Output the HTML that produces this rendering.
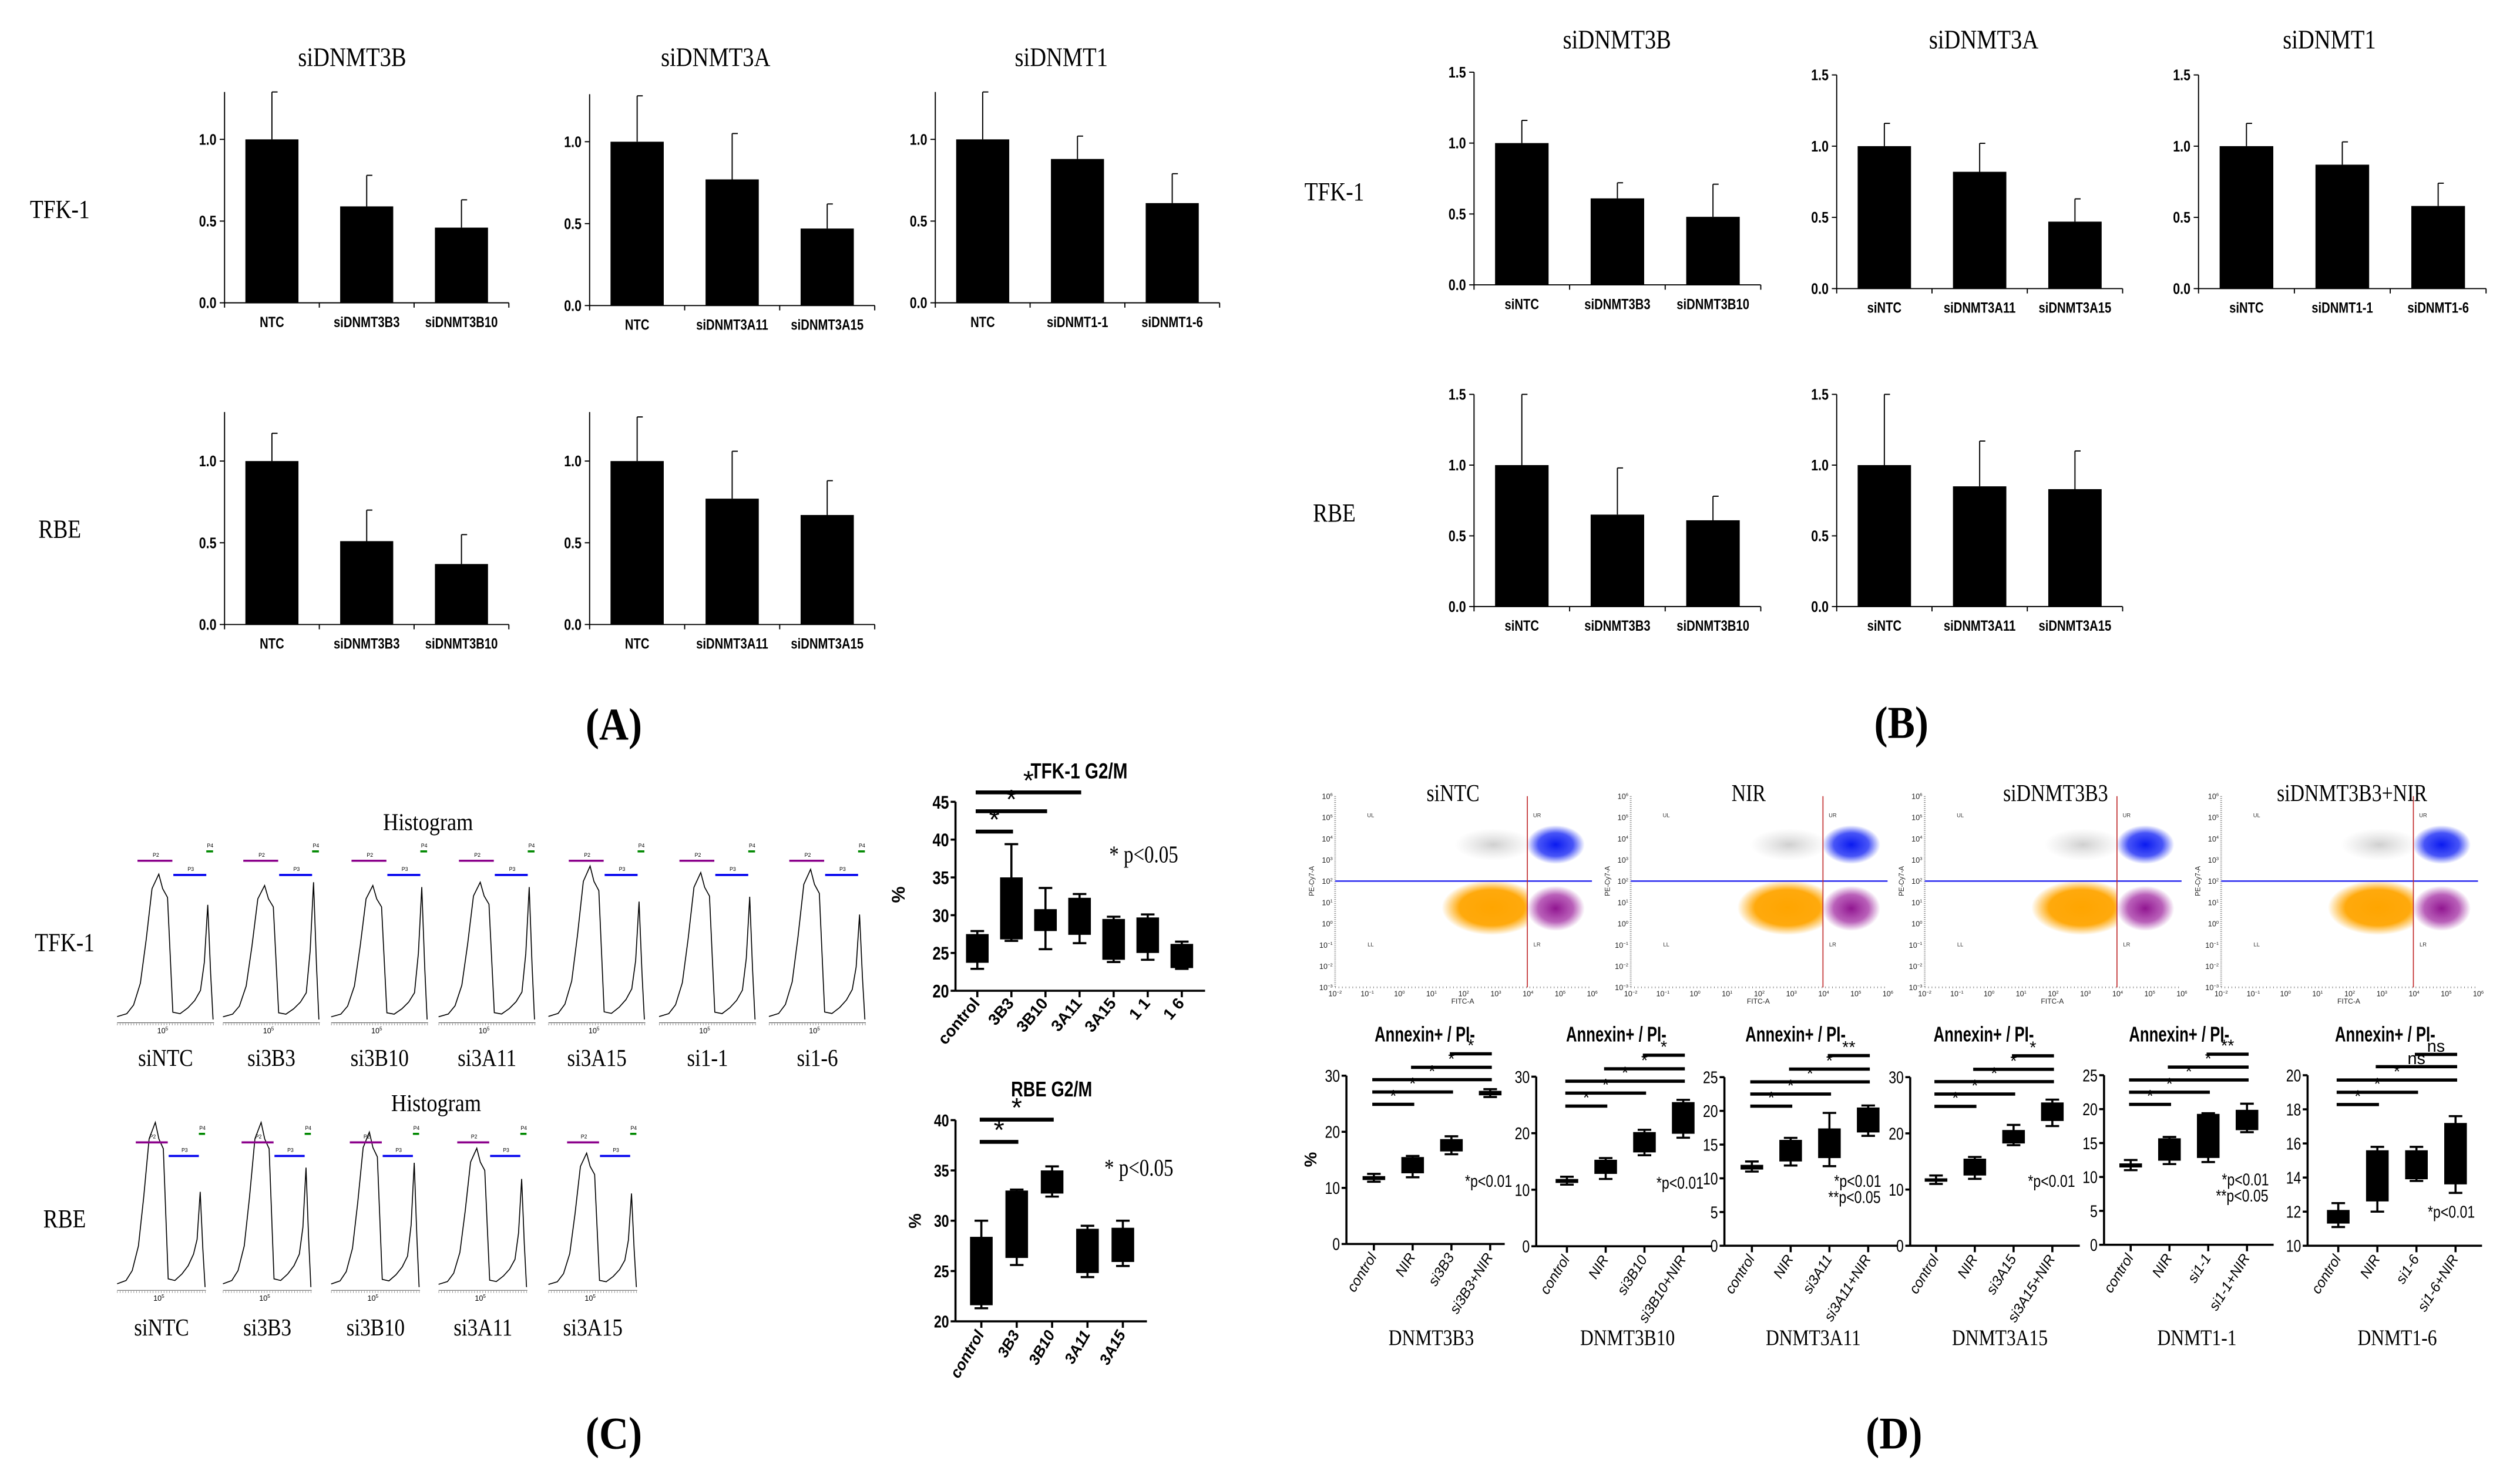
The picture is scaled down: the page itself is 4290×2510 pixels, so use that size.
<!DOCTYPE html>
<html><head><meta charset="utf-8">
<style>
html,body{margin:0;padding:0;background:#fff;}
svg{display:block;}
</style></head>
<body>
<svg id="fig" xmlns="http://www.w3.org/2000/svg" width="4290" height="2510" viewBox="0 0 1560 912.73">
<defs>
<radialGradient id="gOr"><stop offset="0" stop-color="#FFA500" stop-opacity="1"/><stop offset="0.65" stop-color="#FFA500" stop-opacity="0.95"/><stop offset="1" stop-color="#FFA500" stop-opacity="0"/></radialGradient>
<radialGradient id="gPu"><stop offset="0" stop-color="#8B0A8B" stop-opacity="0.95"/><stop offset="0.6" stop-color="#9B1C9B" stop-opacity="0.7"/><stop offset="1" stop-color="#9B1C9B" stop-opacity="0"/></radialGradient>
<radialGradient id="gBl"><stop offset="0" stop-color="#0A1AF0" stop-opacity="1"/><stop offset="0.6" stop-color="#1A2AF5" stop-opacity="0.8"/><stop offset="1" stop-color="#1A2AF5" stop-opacity="0"/></radialGradient>
<radialGradient id="gGr"><stop offset="0" stop-color="#BBBBBB" stop-opacity="0.7"/><stop offset="1" stop-color="#CCCCCC" stop-opacity="0"/></radialGradient>
</defs>
</svg>
<script>
// ---------- Panel A data ----------
const aCats3B = ['NTC','siDNMT3B3','siDNMT3B10'];
const aCats3A = ['NTC','siDNMT3A11','siDNMT3A15'];
const aCats1  = ['NTC','siDNMT1-1','siDNMT1-6'];
const aTfk3BVals = [1.0, 0.59, 0.46];
const aTfk3BErrs = [1.29, 0.78, 0.63];
const aTfk3AVals = [1.0, 0.77, 0.47];
const aTfk3AErrs = [1.28, 1.05, 0.62];
const aTfk1Vals  = [1.0, 0.88, 0.61];
const aTfk1Errs  = [1.29, 1.02, 0.79];
const aRbe3BVals = [1.0, 0.51, 0.37];
const aRbe3BErrs = [1.17, 0.70, 0.55];
const aRbe3AVals = [1.0, 0.77, 0.67];
const aRbe3AErrs = [1.27, 1.06, 0.88];
const aTicks = ['0.0','0.5','1.0'];
// ---------- Panel B data ----------
const bCats3B = ['siNTC','siDNMT3B3','siDNMT3B10'];
const bCats3A = ['siNTC','siDNMT3A11','siDNMT3A15'];
const bCats1  = ['siNTC','siDNMT1-1','siDNMT1-6'];
const bTfk3BVals = [1.0, 0.61, 0.48];
const bTfk3BErrs = [1.16, 0.72, 0.71];
const bTfk3AVals = [1.0, 0.82, 0.47];
const bTfk3AErrs = [1.16, 1.02, 0.63];
const bTfk1Vals  = [1.0, 0.87, 0.58];
const bTfk1Errs  = [1.16, 1.03, 0.74];
const bRbe3BVals = [1.0, 0.65, 0.61];
const bRbe3BErrs = [1.5, 0.98, 0.78];
const bRbe3AVals = [1.0, 0.85, 0.83];
const bRbe3AErrs = [1.5, 1.17, 1.10];
const bTicks = ['0.0','0.5','1.0','1.5'];
// ---------- Panel C histograms ----------
const cTfkHistLabels = ['siNTC','si3B3','si3B10','si3A11','si3A15','si1-1','si1-6'];
const cTfkPeak1 = [90,83,83,85,95,91,93];
const cTfkPeak2 = [71,85,82,82,73,76,65];
const cRbeHistLabels = ['siNTC','si3B3','si3B10','si3A11','si3A15'];
const cRbePeak1 = [102,102,96,86,83];
const cRbePeak2 = [59,74,77,67,58];
// ---------- Panel C box plots ----------
const cTfkCats = ['control','3B3','3B10','3A11','3A15','1 1','1 6'];
const cTfkMin = [22.9,26.6,25.5,26.3,23.8,24.1,22.9];
const cTfkQ1  = [23.7,26.8,27.9,27.4,24.1,25.0,23.0];
const cTfkQ3  = [27.5,35.0,30.8,32.3,29.5,29.7,26.2];
const cTfkMax = [27.9,39.4,33.6,32.8,29.8,30.1,26.5];
const cTfkTicks = [20,25,30,35,40,45];
const cRbeCats = ['control','3B3','3B10','3A11','3A15'];
const cRbeMin = [21.3,25.6,32.4,24.4,25.5];
const cRbeQ1  = [21.6,26.3,32.7,24.8,25.9];
const cRbeQ3  = [28.4,33.0,35.0,29.2,29.3];
const cRbeMax = [30.0,33.1,35.4,29.5,30.0];
const cRbeTicks = [20,25,30,35,40];
// ---------- Panel D box plots ----------
const d1Cats = ['control','NIR','si3B3','si3B3+NIR'];
const d1Min = [11.1,11.9,16.0,26.2]; const d1Q1 = [11.4,12.6,16.5,26.5]; const d1Q3 = [12.1,15.5,18.7,27.3]; const d1Max = [12.5,15.7,19.2,27.6];
const d1Sig = [24.9,27.1,29.3,31.5,33.9];
const d2Cats = ['control','NIR','si3B10','si3B10+NIR'];
const d2Min = [10.9,11.9,16.1,19.2]; const d2Q1 = [11.2,12.8,16.6,19.9]; const d2Q3 = [11.9,15.3,20.2,25.5]; const d2Max = [12.3,15.6,20.6,25.9];
const d2Sig = [24.8,27.1,29.2,31.4,33.8];
const d3Cats = ['control','NIR','si3A11','si3A11+NIR'];
const d3Min = [11.0,11.9,11.8,16.3]; const d3Q1 = [11.3,12.5,13.0,16.8]; const d3Q3 = [12.0,15.7,17.4,20.5]; const d3Max = [12.5,16.0,19.7,20.8];
const d3Sig = [20.7,22.5,24.3,26.2,28.2];
const d4Cats = ['control','NIR','si3A15','si3A15+NIR'];
const d4Min = [11.0,11.9,17.9,21.3]; const d4Q1 = [11.4,12.5,18.2,22.2]; const d4Q3 = [12.0,15.5,20.6,25.5]; const d4Max = [12.5,15.8,21.5,26.0];
const d4Sig = [24.8,27.0,29.2,31.4,33.8];
const d5Cats = ['control','NIR','si1-1','si1-1+NIR'];
const d5Min = [11.0,11.9,12.2,16.6]; const d5Q1 = [11.4,12.4,12.8,16.9]; const d5Q3 = [12.0,15.7,19.3,19.9]; const d5Max = [12.5,15.9,19.4,20.8];
const d5Sig = [20.7,22.5,24.3,26.2,28.1];
const d6Cats = ['control','NIR','si1-6','si1-6+NIR'];
const d6Min = [11.1,12.0,13.8,13.1]; const d6Q1 = [11.3,12.6,13.9,13.6]; const d6Q3 = [12.1,15.6,15.6,17.2]; const d6Max = [12.5,15.8,15.8,17.6];
const d6Sig = [18.28,19.0,19.72,20.5,21.22];
const dSigPairs = [[0,1],[0,2],[0,3],[1,3],[2,3]];

const NS='http://www.w3.org/2000/svg';
const svg=document.getElementById('fig');
function mk(tag,parent){const e=document.createElementNS(NS,tag);(parent||svg).appendChild(e);return e;}
function grp(name,parent){const g=mk('g',parent);


return g;}
function line(p,x1,y1,x2,y2,w,col,name){const l=mk('line',p);l.setAttribute('x1',x1);l.setAttribute('y1',y1);l.setAttribute('x2',x2);l.setAttribute('y2',y2);l.setAttribute('stroke',col||'#000');l.setAttribute('stroke-width',w||0.6);


return l;}
function rect(p,x,y,w,h,fill,name){const r=mk('rect',p);r.setAttribute('x',x);r.setAttribute('y',y);r.setAttribute('width',Math.max(0,w));r.setAttribute('height',Math.max(0,h));r.setAttribute('fill',fill||'#000');


return r;}
function txt(p,x,y,s,size,o,name){o=o||{};const t=mk('text',p);


t.setAttribute('font-family',o.serif?'"Liberation Serif", serif':'"Liberation Sans", Arial, sans-serif');
t.setAttribute('font-size',size);
if(o.bold)t.setAttribute('font-weight','bold');
if(o.italic)t.setAttribute('font-style','italic');
t.setAttribute('text-anchor',o.anchor||'middle');
t.setAttribute('fill',o.fill||'#000');
let tr='translate('+x+','+y+')';
if(o.rot)tr+=' rotate('+o.rot+')';
if(o.sx)tr+=' scale('+o.sx+',1)';
t.setAttribute('transform',tr);
t.innerHTML=s;return t;}

// ---------- bar chart ----------
function barChart(name,x0,x1,y0,y1,top,ticks,cats,vals,errs,labelDy){
 const g=grp(name);
 const ys=v=>y0-(y0-y1)*v;
 const n=cats.length,cw=(x1-x0)/n,bw=cw*0.56;
 line(g,x0,ys(0),x0,ys(top),0.7,'#000','y-axis');
 ticks.forEach(t=>{const v=parseFloat(t);line(g,x0-3,ys(v),x0,ys(v),0.7,'#000','y-tick');
  txt(g,x0-5,ys(v)+3.3,t,9.5,{bold:true,anchor:'end',sx:0.82},'y-tick-label');});
 line(g,x0,y0,x1,y0,0.7,'#000','x-axis');
 for(let i=0;i<=n;i++)line(g,x0+i*cw,y0,x0+i*cw,y0+3,0.7,'#000','x-tick');
 cats.forEach((c,i)=>{const cx=x0+cw*(i+0.5);
  line(g,cx,ys(vals[i]),cx,ys(errs[i]),0.7,'#000','error-bar');
  line(g,cx,ys(errs[i]),cx+3.5,ys(errs[i]),0.7,'#000','error-cap');
  const r=rect(g,cx-bw/2,ys(vals[i]),bw,ys(0)-ys(vals[i]),'#000','bar');
  
  txt(g,cx,y0+labelDy,c,9.2,{bold:true,sx:0.8},'x-tick-label');});
}
// Panel A
barChart('a-tfk1-sidnmt3b',139,315,187.5,86.3,1.29,aTicks,aCats3B,aTfk3BVals,aTfk3BErrs,15);
barChart('a-tfk1-sidnmt3a',365,541.5,189.2,87.75,1.29,aTicks,aCats3A,aTfk3AVals,aTfk3AErrs,15);
barChart('a-tfk1-sidnmt1',579,755,187.5,86.3,1.29,aTicks,aCats1,aTfk1Vals,aTfk1Errs,15);
barChart('a-rbe-sidnmt3b',139,315,386.7,285.5,1.3,aTicks,aCats3B,aRbe3BVals,aRbe3BErrs,15);
barChart('a-rbe-sidnmt3a',365,541.5,386.7,285.5,1.3,aTicks,aCats3A,aRbe3AVals,aRbe3AErrs,15);
// Panel B
barChart('b-tfk1-sidnmt3b',912.5,1090,176.4,88.6,1.5,bTicks,bCats3B,bTfk3BVals,bTfk3BErrs,15);
barChart('b-tfk1-sidnmt3a',1137,1314,178.7,90.5,1.5,bTicks,bCats3A,bTfk3AVals,bTfk3AErrs,15);
barChart('b-tfk1-sidnmt1',1361,1539,178.7,90.5,1.5,bTicks,bCats1,bTfk1Vals,bTfk1Errs,15);
barChart('b-rbe-sidnmt3b',912.5,1090,375.6,288,1.5,bTicks,bCats3B,bRbe3BVals,bRbe3BErrs,15);
barChart('b-rbe-sidnmt3a',1137,1314,375.6,288,1.5,bTicks,bCats3A,bRbe3AVals,bRbe3AErrs,15);

const G=grp('figure-labels');
// A labels
txt(G,218,41,'siDNMT3B',16.5,{serif:true,sx:0.85},'column-title-sidnmt3b');
txt(G,443,41,'siDNMT3A',16.5,{serif:true,sx:0.85},'column-title-sidnmt3a');
txt(G,657,41,'siDNMT1',16.5,{serif:true,sx:0.85},'column-title-sidnmt1');
txt(G,37,135,'TFK-1',16,{serif:true,sx:0.85},'row-label-tfk1');
txt(G,37,333,'RBE',16,{serif:true,sx:0.85},'row-label-rbe');
txt(G,380,458,'(A)',28,{serif:true,bold:true,sx:0.9},'panel-label-a');
// B labels
txt(G,1001,30,'siDNMT3B',16.5,{serif:true,sx:0.85},'column-title-sidnmt3b');
txt(G,1228,30,'siDNMT3A',16.5,{serif:true,sx:0.85},'column-title-sidnmt3a');
txt(G,1442,30,'siDNMT1',16.5,{serif:true,sx:0.85},'column-title-sidnmt1');
txt(G,826,124,'TFK-1',16,{serif:true,sx:0.85},'row-label-tfk1');
txt(G,826,323,'RBE',16,{serif:true,sx:0.85},'row-label-rbe');
txt(G,1177,457,'(B)',28,{serif:true,bold:true,sx:0.9},'panel-label-b');
// C labels
txt(G,265,514,'Histogram',15,{serif:true,sx:0.88},'histogram-title-tfk1');
txt(G,270,688,'Histogram',15,{serif:true,sx:0.88},'histogram-title-rbe');
txt(G,40,589,'TFK-1',16,{serif:true,sx:0.85},'row-label-tfk1');
txt(G,40,760,'RBE',16,{serif:true,sx:0.85},'row-label-rbe');
txt(G,380,897,'(C)',28,{serif:true,bold:true,sx:0.9},'panel-label-c');
txt(G,1172.5,897,'(D)',28,{serif:true,bold:true,sx:0.9},'panel-label-d');

// ---------- histograms ----------
function histo(name,x0,base,w,h1,h2,label,labY,gy){
 const g=grp(name);
 const pts=[[0,0.02,'a'],[0.1,0.04,'a'],[0.17,0.1,'a'],[0.24,0.25,'a'],[0.3,0.55,'a'],[0.36,0.9,'a'],[0.43,1,'a'],[0.47,0.9,'a'],[0.52,0.84,'a'],[0.575,0.05,'a'],[0.65,0.04,'a'],[0.73,0.08,'a'],[0.8,0.13,'a'],[0.86,0.2,'a'],[0.9,0.5,'b'],[0.935,1,'b'],[0.965,0.4,'b'],[0.99,0,'b']];
 const pl=mk('polyline',g);
 
 
 pl.setAttribute('points',pts.map(p=>(x0+p[0]*w).toFixed(2)+','+(base-p[1]*(p[2]=='a'?h1:h2)).toFixed(2)).join(' '));
 pl.setAttribute('fill','none');pl.setAttribute('stroke','#000');pl.setAttribute('stroke-width',0.6);
 line(g,x0,base+2,x0+w,base+2,0.4,'#555','histogram-x-axis');
 const tk=line(g,x0,base+3,x0+w,base+3,1.2,'#777','histogram-x-ticks');tk.setAttribute('stroke-dasharray','0.3 1.4');
 txt(g,x0+0.47*w,base+8.5,'10<tspan font-size="3" dy="-1.8">5</tspan>',4.6,{},'histogram-tick-label');
 line(g,x0+0.21*w,gy[0],x0+0.57*w,gy[0],1.3,'#8B008B','gate-p2');
 txt(g,x0+0.4*w,gy[0]-2.5,'P2',3.2,{},'gate-p2-label');
 line(g,x0+0.58*w,gy[1],x0+0.92*w,gy[1],1.3,'#0000EE','gate-p3');
 txt(g,x0+0.76*w,gy[1]-2.5,'P3',3.2,{},'gate-p3-label');
 line(g,x0+0.92*w,gy[2],x0+0.99*w,gy[2],1.3,'#008800','gate-p4');
 txt(g,x0+0.96*w,gy[2]-2.5,'P4',3.2,{},'gate-p4-label');
 txt(g,x0+0.5*w,labY,label,15,{serif:true,sx:0.85},'histogram-sample-label');
}
const histStarts=[72.5,138,205,271.5,339.5,408,476];
cTfkHistLabels.forEach((l,i)=>histo('tfk1-histogram-'+l,histStarts[i],631.3,60,cTfkPeak1[i],cTfkPeak2[i],l,660,[533,541.8,527.2]));
cRbeHistLabels.forEach((l,i)=>histo('rbe-histogram-'+l,histStarts[i],797,55,cRbePeak1[i],cRbePeak2[i],l,827,[707.4,715.8,702.1]));

// ---------- box charts ----------
function boxChart(name,o){
 const g=grp(name);
 const ys=v=>o.pMin-(o.pMin-o.pMax)*(v-o.vMin)/(o.vMax-o.vMin);
 line(g,o.x0,ys(o.vMin),o.x0,ys(o.ticks[o.ticks.length-1]),o.aw,'#000','y-axis');
 o.ticks.forEach(t=>{line(g,o.x0-3,ys(t),o.x0,ys(t),o.aw,'#000','y-tick');
  txt(g,o.x0-4,ys(t)+o.fs*0.36,String(t),o.fs,{bold:o.bold,anchor:'end',sx:0.8},'y-tick-label');});
 line(g,o.x0,ys(o.vMin),o.x1,ys(o.vMin),o.aw,'#000','x-axis');
 const cx=i=>o.c0+i*o.cs;
 o.cats.forEach((c,i)=>{const x=cx(i);
  line(g,x,ys(o.vMin),x,ys(o.vMin)+4,o.aw,'#000','x-tick');
  line(g,x,ys(o.mins[i]),x,ys(o.maxs[i]),1.3,'#000','whisker');
  line(g,x-o.bw*0.3,ys(o.mins[i]),x+o.bw*0.3,ys(o.mins[i]),1.3,'#000','whisker-cap-min');
  line(g,x-o.bw*0.3,ys(o.maxs[i]),x+o.bw*0.3,ys(o.maxs[i]),1.3,'#000','whisker-cap-max');
  const r=rect(g,x-o.bw/2,ys(o.q3[i]),o.bw,ys(o.q1[i])-ys(o.q3[i]),'#000','box');
  
  txt(g,x+2,ys(o.vMin)+8,c,o.lfs,{bold:o.bold,italic:o.italic,anchor:'end',rot:o.rot,sx:o.lsx||1},'x-tick-label');});
 o.sig.forEach((s,k)=>{const p=o.pairs[k];const y=ys(s);
  line(g,cx(p[0])-1,y,cx(p[1])+1,y,o.sw,'#000','significance-bar');
  txt(g,(cx(p[0])+cx(p[1]))/2,y-1.6,o.sigLab[k],o.sfs,{},'significance-mark');});
 if(o.title)txt(g,o.tx,o.ty,o.title,o.tfs,{bold:true,sx:o.tsx||0.8},'chart-title');
 if(o.pct)txt(g,o.pct[0],o.pct[1],'%',o.fs,{bold:true,rot:-90},'y-axis-title');
 (o.notes||[]).forEach(n=>txt(g,n[0],n[1],n[2],n[3],{serif:n[4],anchor:'middle',sx:0.8},'p-value-note'));
}
boxChart('c-tfk1-g2m-boxplot',{x0:591.5,x1:746,pMin:613.5,pMax:496.5,vMin:20,vMax:45,ticks:cTfkTicks,cats:cTfkCats,mins:cTfkMin,q1:cTfkQ1,q3:cTfkQ3,maxs:cTfkMax,c0:605,cs:21.1,bw:14,aw:1.3,fs:11.5,bold:true,lfs:10,rot:-50,sig:[41.06,43.75,46.25],pairs:[[0,1],[0,2],[0,3]],sigLab:['*','*','*'],sw:2.4,sfs:17,title:'TFK-1 G2/M',tx:668,ty:482,tfs:13.5,pct:[560,554],notes:[[708,534,'* p&lt;0.05',15,true]]});
boxChart('c-rbe-g2m-boxplot',{x0:591.5,x1:710,pMin:818.2,pMax:693.6,vMin:20,vMax:40,ticks:cRbeTicks,cats:cRbeCats,mins:cRbeMin,q1:cRbeQ1,q3:cRbeQ3,maxs:cRbeMax,c0:607.5,cs:21.9,bw:14,aw:1.3,fs:10.5,bold:true,lfs:9.5,italic:true,rot:-60,sig:[37.84,40.05],pairs:[[0,1],[0,2]],sigLab:['*','*'],sw:2.4,sfs:17,title:'RBE G2/M',tx:651,ty:679,tfs:13,pct:[570,756],notes:[[705,728,'* p&lt;0.05',15,true]]});

const dCommon={aw:1.3,fs:10.5,bold:false,lfs:8.8,italic:true,rot:-58,pairs:dSigPairs,sw:2,sfs:10.5,bw:14,cs:24,tfs:13,tsx:0.72};
function dBox(name,o){boxChart(name,Object.assign({},dCommon,o));}
dBox('d-dnmt3b3-boxplot',{x0:833.5,x1:931.5,pMin:770.3,pMax:666.1,vMin:0,vMax:30,ticks:[0,10,20,30],cats:d1Cats,mins:d1Min,q1:d1Q1,q3:d1Q3,maxs:d1Max,c0:850.5,sig:d1Sig,sigLab:['*','*','*','*','*'],title:'Annexin+ / PI-',tx:882,ty:645,pct:[815,718],notes:[[921.5,735,'*p&lt;0.01',10.5]]});
dBox('d-dnmt3b10-boxplot',{x0:951,x1:1060,pMin:771.7,pMax:666.7,vMin:0,vMax:30,ticks:[0,10,20,30],cats:d2Cats,mins:d2Min,q1:d2Q1,q3:d2Q3,maxs:d2Max,c0:970,sig:d2Sig,sigLab:['*','*','*','*','*'],title:'Annexin+ / PI-',tx:1000.5,ty:645,notes:[[1040,736,'*p&lt;0.01',10.5]]});
dBox('d-dnmt3a11-boxplot',{x0:1067.5,x1:1175,pMin:771.4,pMax:667,vMin:0,vMax:25,ticks:[0,5,10,15,20,25],cats:d3Cats,mins:d3Min,q1:d3Q1,q3:d3Q3,maxs:d3Max,c0:1084.5,sig:d3Sig,sigLab:['*','*','*','*','**'],title:'Annexin+ / PI-',tx:1111.5,ty:645,notes:[[1150,735,'*p&lt;0.01',10.5],[1148,745,'**p&lt;0.05',10.5]]});
dBox('d-dnmt3a15-boxplot',{x0:1182.5,x1:1287.5,pMin:771.4,pMax:667,vMin:0,vMax:30,ticks:[0,10,20,30],cats:d4Cats,mins:d4Min,q1:d4Q1,q3:d4Q3,maxs:d4Max,c0:1198.5,sig:d4Sig,sigLab:['*','*','*','*','*'],title:'Annexin+ / PI-',tx:1228,ty:645,notes:[[1270,735,'*p&lt;0.01',10.5]]});
dBox('d-dnmt1-1-boxplot',{x0:1302.5,x1:1407.5,pMin:770.8,pMax:665.8,vMin:0,vMax:25,ticks:[0,5,10,15,20,25],cats:d5Cats,mins:d5Min,q1:d5Q1,q3:d5Q3,maxs:d5Max,c0:1319,sig:d5Sig,sigLab:['*','*','*','*','**'],title:'Annexin+ / PI-',tx:1349,ty:645,notes:[[1390,734,'*p&lt;0.01',10.5],[1388,744,'**p&lt;0.05',10.5]]});
dBox('d-dnmt1-6-boxplot',{x0:1428.5,x1:1536.5,pMin:771.4,pMax:665.8,vMin:10,vMax:20,ticks:[10,12,14,16,18,20],cats:d6Cats,mins:d6Min,q1:d6Q1,q3:d6Q3,maxs:d6Max,c0:1447.5,cs:24.2,sig:d6Sig,sigLab:['*','*','*','ns','ns'],title:'Annexin+ / PI-',tx:1476.5,ty:645,notes:[[1517.5,754,'*p&lt;0.01',10.5]]});
[['DNMT3B3',886],['DNMT3B10',1007.5],['DNMT3A11',1122.5],['DNMT3A15',1238],['DNMT1-1',1360],['DNMT1-6',1484]].forEach(a=>txt(G,a[1],833,a[0],14,{serif:true,sx:0.82},'group-label-'+a[0].toLowerCase()));

// ---------- flow plots ----------
function flow(name,left,title){
 const g=grp(name);
 const top=493,bot=611.4,right=left+159,red=left+119,blue=545.6;
 const ya=mk('line',g);
 
 
 ya.setAttribute('x1',left);ya.setAttribute('y1',top);ya.setAttribute('x2',left);ya.setAttribute('y2',bot);ya.setAttribute('stroke','#777');ya.setAttribute('stroke-width',1.1);ya.setAttribute('stroke-dasharray','0.35 0.9');
 const xa=mk('line',g);
 
 
 xa.setAttribute('x1',left);xa.setAttribute('y1',bot);xa.setAttribute('x2',right);xa.setAttribute('y2',bot);xa.setAttribute('stroke','#777');xa.setAttribute('stroke-width',1.1);xa.setAttribute('stroke-dasharray','0.35 1.8');
 const ye=['6','5','4','3','2','1','0','-1','-2','-3'];
 ye.forEach((e,i)=>txt(g,left-1.5,top+i*13.16+1.7,'10<tspan font-size="2.8" dy="-1.7">'+e.replace('-','−')+'</tspan>',4.6,{anchor:'end',fill:'#222'},'y-tick-label'));
 const xe=['-2','-1','0','1','2','3','4','5','6'];
 xe.forEach((e,i)=>txt(g,left+i*19.9,bot+5.5,'10<tspan font-size="2.8" dy="-1.7">'+e.replace('-','−')+'</tspan>',4.6,{fill:'#222'},'x-tick-label'));
 txt(g,left+79,bot+10,'FITC-A',4.4,{fill:'#222'},'x-axis-title');
 txt(g,left-13,blue,'PE-Cy7-A',4.2,{rot:-90,fill:'#222'},'y-axis-title');
 txt(g,left+22,top+13,'UL',3.4,{fill:'#333'},'quadrant-ul');
 txt(g,red+6,top+13,'UR',3.4,{fill:'#333'},'quadrant-ur');
 txt(g,left+22,top+93,'LL',3.4,{fill:'#333'},'quadrant-ll');
 txt(g,red+6,top+93,'LR',3.4,{fill:'#333'},'quadrant-lr');
 function ell(cx,cy,rx,ry,fill,nm,par){const e=mk('ellipse',par||g);
  
  
  e.setAttribute('cx',cx);e.setAttribute('cy',cy);e.setAttribute('rx',rx);e.setAttribute('ry',ry);e.setAttribute('fill',fill);return e;}
 const cp=mk('clipPath',g);cp.setAttribute('id','clipL-'+name);
 const cr=mk('rect',cp);cr.setAttribute('x',left);cr.setAttribute('y',top);cr.setAttribute('width',red-left);cr.setAttribute('height',bot-top);
 const gl=mk('g',g);gl.setAttribute('clip-path','url(#clipL-'+name+')');
 
 
 ell(red-21,523,24,10,'url(#gGr)','gray-event-cluster',gl);
 ell(red-22,562,31,17,'url(#gOr)','orange-event-cluster',gl);
 ell(red+17.5,523,18,12,'url(#gBl)','blue-event-cluster');
 ell(red+17.5,562.5,18,14,'url(#gPu)','purple-event-cluster');
 line(g,left,blue,right,blue,0.8,'#1010EE','quadrant-gate-horizontal');
 line(g,red,top,red,bot,0.6,'#C0282A','quadrant-gate-vertical');
 txt(g,left+(title.length>8?81:73),496,title,15,{serif:true,sx:0.82},'flow-plot-title');
}
flow('flow-sintc',826.5,'siNTC');
flow('flow-nir',1009.5,'NIR');
flow('flow-sidnmt3b3',1191.5,'siDNMT3B3');
flow('flow-sidnmt3b3-nir',1375,'siDNMT3B3+NIR');
</script>
</body></html>
